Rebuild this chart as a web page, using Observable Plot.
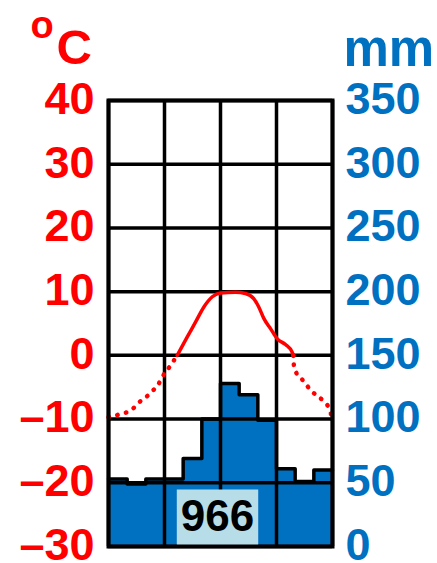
<!DOCTYPE html>
<html><head><meta charset="utf-8">
<script src="https://cdn.jsdelivr.net/npm/d3@7"></script>
<script src="https://cdn.jsdelivr.net/npm/@observablehq/plot@0.6"></script>
<style>html,body{margin:0;padding:0;background:#fff}#chart svg{display:block}</style>
</head><body><div id="chart"></div>
<script>
// Monthly precipitation (mm), Jan..Dec
const months = [0,1,2,3,4,5,6,7,8,9,10,11];
const precip = [53,49,53,53,69,100,128,119,99,61,51,60];
const precipTotal = "966";

// Temperature curve (position in months from 1 Jan, °C)
const tempPos = [0,0.2,0.64,1.09,1.41,1.71,2.07,2.39,2.66,2.88,3.32,3.68,
  4.22,4.66,5.11,5.56,6.0,6.8,7.34,7.78,8.05,8.32,8.68,9.04,9.48,9.84,9.9,
  9.93,10.07,10.35,10.59,10.91,11.21,11.53,11.8,11.95,12];
const tempVal = [-9.7,-9.6,-9.2,-8.8,-8.1,-7.2,-6.4,-5.5,-4.6,-3.4,-1.6,0,
  2.9,5.2,7.6,9.2,9.8,9.9,9.7,8.9,7.6,5.8,4.2,2.6,1.7,0.5,0,
  -1.5,-2.8,-3.7,-4.6,-5.7,-6.4,-7.2,-8.2,-9.4,-9.6];

// Axis ticks / labels
const tempTicks = [-30,-20,-10,0,10,20,30,40];
const tempLabels = ["–30","–20","–10","0","10","20","30","40"];
const precipTicks = [0,50,100,150,200,250,300,350];
const precipLabels = ["0","50","100","150","200","250","300","350"];
const monthGrid = [0,3,6,9,12];

const RED = "#FF0000", BLUE = "#0070C0";
// precipitation mapped onto the temperature scale: 0 mm -> -30 °C, 50 mm per 10 °C
const p2t = p => -30 + p / 5;

const barRows = months.map((m, i) => ({x: m, y: p2t(precip[i])}));
barRows.push({x: 12, y: p2t(precip[precip.length - 1])});

const pts = tempPos.map((x, i) => ({x, t: tempVal[i]}));
const zeros = pts.map((p, i) => p.t === 0 ? i : -1).filter(i => i >= 0);
const seg1 = pts.slice(0, zeros[0] + 1);
const seg2 = pts.slice(zeros[0], zeros[1] + 1);
const seg3 = pts.slice(zeros[1]);

const dotted = {stroke: RED, strokeWidth: 4.5, strokeDasharray: "0.5,8.5", strokeLinecap: "round", curve: "monotone-x"};

const chart = Plot.plot({
  width: 437, height: 563,
  marginLeft: 108, marginRight: 105, marginTop: 100, marginBottom: 17,
  style: {fontFamily: "'Liberation Sans', Arial, sans-serif", fontWeight: "bold", background: "#fff"},
  x: {domain: [0, 12], axis: null},
  y: {domain: [-30, 40], axis: null},
  marks: [
    Plot.areaY(barRows, {x: "x", y1: -30, y2: "y", curve: "step-after", fill: BLUE}),
    Plot.lineY(barRows, {x: "x", y: "y", curve: "step-after", stroke: "black", strokeWidth: 3.5}),
    Plot.ruleX(monthGrid, {stroke: "black", strokeWidth: 3.5}),
    Plot.ruleY(tempTicks, {stroke: "black", strokeWidth: 3.5}),
    Plot.line(seg1, {x: "x", y: "t", ...dotted}),
    Plot.line(seg2, {x: "x", y: "t", stroke: RED, strokeWidth: 3.5, curve: "monotone-x"}),
    Plot.line(seg3, {x: "x", y: "t", ...dotted}),
    Plot.text([precipTotal], {text: d => d, frameAnchor: "bottom", lineAnchor: "bottom", dx: -3, dy: -16, fontSize: 44, fill: "black"}),
    Plot.frame({stroke: "black", strokeWidth: 4}),
    Plot.axisY(tempTicks, {anchor: "left", tickSize: 0, tickPadding: 14, fontSize: 45, color: RED,
      tickFormat: d => tempLabels[tempTicks.indexOf(d)], dy: -1}),
    Plot.axisY(precipTicks.map(p2t), {anchor: "right", tickSize: 0, tickPadding: 13, fontSize: 45, color: BLUE,
      tickFormat: d => precipLabels[precipTicks.indexOf(Math.round((d + 30) * 5))], dy: -1}),
    Plot.text(["C"], {text: d => d, frameAnchor: "top-left", textAnchor: "start", lineAnchor: "bottom", dx: -52, dy: -37, fontSize: 49, fill: RED}),
    Plot.text(["o"], {text: d => d, frameAnchor: "top-left", textAnchor: "start", lineAnchor: "bottom", dx: -78, dy: -63, fontSize: 38, fill: RED}),
    Plot.text(["mm"], {text: d => d, frameAnchor: "top-right", textAnchor: "start", lineAnchor: "bottom", dx: 11, dy: -35, fontSize: 51, fill: BLUE})
  ]
});
document.getElementById("chart").appendChild(chart);

// light-blue box behind the annual total (measured in SVG coordinates)
const tnode = d3.select(chart).selectAll("text").filter(function() { return this.textContent === precipTotal; }).node();
if (tnode) {
  const sr = chart.getBoundingClientRect();
  const r = tnode.getBoundingClientRect();
  const x0 = r.left - sr.left, x1 = r.right - sr.left;
  const top = r.top - sr.top - 1;
  const frameBottom = 563 - 17;
  let g = tnode;
  while (g.parentNode !== chart) g = g.parentNode;
  const rect = document.createElementNS("http://www.w3.org/2000/svg", "rect");
  rect.setAttribute("x", x0 - 4);
  rect.setAttribute("width", (x1 - x0) + 8);
  rect.setAttribute("y", top);
  rect.setAttribute("height", frameBottom - top);
  rect.setAttribute("fill", "#B7DEE8");
  chart.insertBefore(rect, g);
}
</script>
</body></html>
